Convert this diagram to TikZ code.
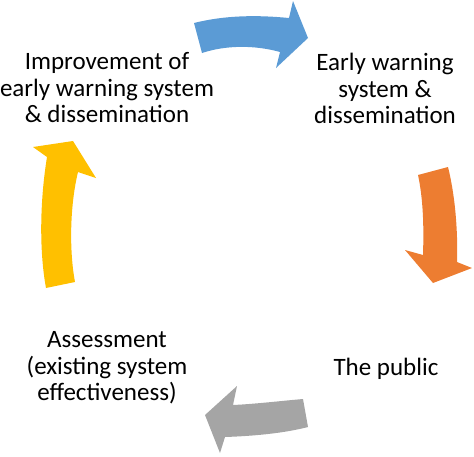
\documentclass[tikz,border=0pt]{standalone}
\usepackage{fontspec}
\setmainfont{Carlito}
\definecolor{cblue}{HTML}{5B9BD5}
\definecolor{corange}{HTML}{ED7D31}
\definecolor{cgrey}{HTML}{A5A5A5}
\definecolor{cyellow}{HTML}{FFC000}
\tikzset{
  lbl/.style={font=\fontsize{25}{26.5}\selectfont, align=center, inner sep=0pt, text=black},
  cyclearrow/.style={draw=none}
}
\begin{document}
\begin{tikzpicture}[x=1pt,y=-1pt]
\useasboundingbox (0,0) rectangle (474,456);
% blue arrow (top)
\fill[cblue,cyclearrow] (194,23) .. controls (226,15) and (258,15) .. (289,18)
  -- (293,1) -- (308,38) -- (276,68) -- (280,52)
  .. controls (255,45) and (226,45) .. (202,53) -- cycle;
% orange arrow (right)
\fill[corange,cyclearrow] (448,167) .. controls (455,195) and (458,230) .. (457,262)
  -- (472,268) -- (433,283) -- (405,250) -- (423,255)
  .. controls (424,225) and (423,198) .. (418,175) -- cycle;
% grey arrow (bottom)
\fill[cgrey,cyclearrow] (303,399) .. controls (280,401) and (255,404) .. (233,405)
  -- (237,386) -- (205,415) -- (220,453) -- (225,437)
  .. controls (255,436) and (285,433) .. (308,427) -- cycle;
% yellow arrow (left)
\fill[cyellow,cyclearrow] (46,288) .. controls (39,250) and (40,200) .. (47,157)
  -- (33,147) -- (73,141) -- (96,178) -- (78,172)
  .. controls (70,205) and (69,250) .. (75,282) -- cycle;
% labels
\node[lbl] (imp) at (107,88) {Improvement of\\early warning system\\\& dissemination};
\node[lbl] (ews) at (385,88.5) {Early warning\\system \&\\dissemination};
\node[lbl, anchor=base] (pub) at (386,375) {The public};
\node[lbl] (ass) at (107,368) {Assessment\\(existing system\\effectiveness)};
\end{tikzpicture}
\end{document}
